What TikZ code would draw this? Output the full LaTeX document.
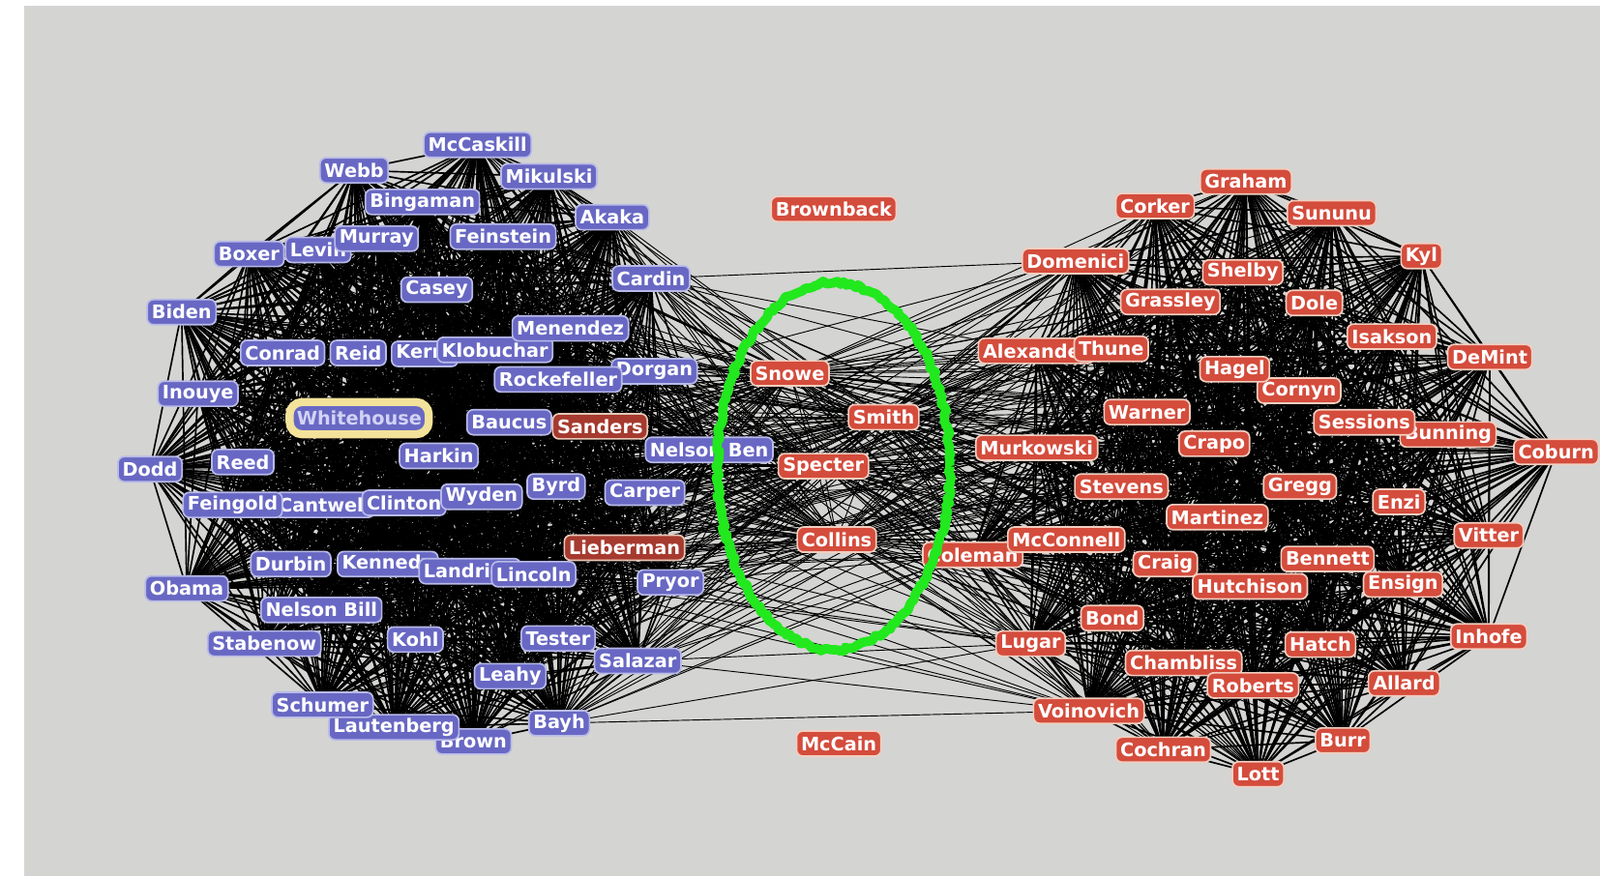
\documentclass[tikz,border=0pt]{standalone}
\usepackage{fontspec}
\setmainfont{DejaVu Sans}
\usetikzlibrary{decorations.pathmorphing}
\pgfdeclarelayer{bg}
\pgfdeclarelayer{edges}
\pgfsetlayers{bg,edges,main}
\definecolor{canvas}{RGB}{212,212,210}
\definecolor{demblue}{RGB}{104,104,196}
\definecolor{demedge}{RGB}{184,186,232}
\definecolor{repred}{RGB}{212,76,60}
\definecolor{repedge}{RGB}{242,206,192}
\definecolor{indred}{RGB}{166,58,46}
\definecolor{indedge}{RGB}{232,200,184}
\definecolor{whyellow}{RGB}{243,226,154}
\definecolor{whtext}{RGB}{210,210,245}
\definecolor{ringgreen}{RGB}{34,232,30}
\tikzset{
  sen/.style={rounded corners=3.5pt, inner xsep=2.5pt, inner ysep=0pt,
    minimum height=14pt, line width=0.9pt, text=white,
    font=\bfseries\fontsize{10.4}{12}\selectfont},
  demnode/.style={sen, fill=demblue, draw=demedge},
  repnode/.style={sen, fill=repred, draw=repedge},
  indnode/.style={sen, fill=indred, draw=indedge},
  whnode/.style={sen, fill=demblue, draw=whyellow, line width=4.5pt,
    rounded corners=7pt, inner xsep=4pt, minimum height=18pt, text=whtext},
  edge/.style={draw=black, line width=0.9pt},
  crossedge/.style={draw=black, line width=0.5pt},
  ring/.style={draw=ringgreen, line width=5.2pt, line join=round,
    decorate, decoration={random steps, segment length=2pt, amplitude=1.1pt}}
}
\def\leftlist{McCaskill,Webb,Mikulski,Bingaman,Akaka,Feinstein,Murray,Levin,Boxer,Cardin,Casey,Biden,Menendez,Conrad,Reid,Kerry,Klobuchar,Rockefeller,Dorgan,Inouye,Whitehouse,Baucus,Sanders,Harkin,NelsonBen,Reed,Dodd,Byrd,Carper,Feingold,Cantwell,Clinton,Wyden,Lieberman,Durbin,Kennedy,Landrieu,Lincoln,Pryor,Obama,NelsonBill,Stabenow,Kohl,Tester,Salazar,Leahy,Schumer,Lautenberg,Brown,Bayh}
\def\rightlist{Graham,Corker,Sununu,Domenici,Kyl,Shelby,Grassley,Dole,Isakson,Alexander,Thune,DeMint,Hagel,Cornyn,Warner,Sessions,Bunning,Crapo,Murkowski,Coburn,Stevens,Gregg,Enzi,Martinez,Vitter,Coleman,McConnell,Craig,Bennett,Hutchison,Ensign,Bond,Inhofe,Lugar,Hatch,Chambliss,Roberts,Allard,Voinovich,Burr,Cochran,Lott}
\def\midlist{Snowe,Smith,Specter,Collins}
\def\leftmod{NelsonBen,Lieberman,Pryor,Landrieu,Lincoln,Salazar,Bayh,Carper,Cardin,Dorgan}
\def\rightmod{Lugar,Coleman,Voinovich,Murkowski,Stevens,Alexander,Domenici,Warner}
\begin{document}
\begin{tikzpicture}[x=0.02cm,y=-0.02cm]
\useasboundingbox (0,0) rectangle (1568,859);
\begin{pgfonlayer}{bg}
\fill[white] (0,0) rectangle (1568,859);
\fill[canvas] (24,5.5) rectangle (1568,859);
\end{pgfonlayer}

% ---------- left cluster ----------
\node[demnode] (McCaskill) at (468,142) {McCaskill};
\node[demnode] (Webb) at (347,167) {Webb};
\node[demnode] (Mikulski) at (538,173) {Mikulski};
\node[demnode] (Bingaman) at (414,198) {Bingaman};
\node[demnode] (Akaka) at (600,213) {Akaka};
\node[demnode] (Feinstein) at (493,232) {Feinstein};
\node[demnode, anchor=west] (Levin) at (279,245) {Levin};
\node[demnode] (Murray) at (369,234) {Murray};
\node[demnode] (Boxer) at (244,249) {Boxer};
\node[demnode] (Cardin) at (638,273) {Cardin};
\node[demnode] (Casey) at (428,284) {Casey};
\node[demnode] (Biden) at (178,306) {Biden};
\node[demnode] (Conrad) at (277,346) {Conrad};
\node[demnode] (Reid) at (351,346) {Reid};
\node[demnode, anchor=west] (Kerry) at (383,347) {Kerry};
\node[demnode] (Klobuchar) at (485,343) {Klobuchar};
\node[demnode] (Menendez) at (559,322) {Menendez};
\node[demnode, anchor=east] (Dorgan) at (684,364) {Dorgan};
\node[demnode] (Rockefeller) at (547,372) {Rockefeller};
\node[demnode] (Inouye) at (194,386) {Inouye};
\node[whnode] (Whitehouse) at (352,410) {Whitehouse};
\node[demnode] (Baucus) at (499,414) {Baucus};
\node[indnode] (Sanders) at (588,418) {Sanders};
\node[demnode] (Harkin) at (430,447) {Harkin};
\node[demnode] (NelsonBen) at (695,441) {Nelson Ben};
\node[demnode] (Reed) at (238,453) {Reed};
\node[demnode] (Dodd) at (147,460) {Dodd};
\node[demnode] (Byrd) at (545,477) {Byrd};
\node[demnode] (Carper) at (632,483) {Carper};
\node[demnode, anchor=west] (Cantwell) at (268,495) {Cantwell};
\node[demnode] (Feingold) at (228,495) {Feingold};
\node[demnode] (Clinton) at (396,493) {Clinton};
\node[demnode] (Wyden) at (472,487) {Wyden};
\node[indnode] (Lieberman) at (612,537) {Lieberman};
\node[demnode] (Durbin) at (285,553) {Durbin};
\node[demnode, anchor=west] (Kennedy) at (330,553) {Kennedy};
\node[demnode, anchor=west] (Landrieu) at (410,560) {Landrieu};
\node[demnode] (Lincoln) at (523,563) {Lincoln};
\node[demnode] (Pryor) at (657,571) {Pryor};
\node[demnode] (Obama) at (183,577) {Obama};
\node[demnode] (NelsonBill) at (315,598) {Nelson Bill};
\node[demnode] (Stabenow) at (259,631) {Stabenow};
\node[demnode] (Kohl) at (407,627) {Kohl};
\node[demnode] (Tester) at (547,626) {Tester};
\node[demnode] (Salazar) at (625,648) {Salazar};
\node[demnode] (Leahy) at (500,663) {Leahy};
\node[demnode] (Brown) at (464,727) {Brown};
\node[demnode] (Lautenberg) at (386,713) {Lautenberg};
\node[demnode] (Schumer) at (316,691) {Schumer};
\node[demnode] (Bayh) at (548,709) {Bayh};

% ---------- middle ----------
\node[repnode] (Brownback) at (817,205) {Brownback};
\node[repnode] (Snowe) at (774,366) {Snowe};
\node[repnode] (Smith) at (866,409) {Smith};
\node[repnode] (Specter) at (807,457) {Specter};
\node[repnode] (Collins) at (820,529) {Collins};
\node[repnode] (McCain) at (822,729) {McCain};

% ---------- right cluster ----------
\node[repnode] (Graham) at (1221,178) {Graham};
\node[repnode] (Corker) at (1132,202) {Corker};
\node[repnode] (Sununu) at (1305,209) {Sununu};
\node[repnode] (Domenici) at (1054,256) {Domenici};
\node[repnode] (Kyl) at (1393,251) {Kyl};
\node[repnode] (Shelby) at (1218,267) {Shelby};
\node[repnode] (Grassley) at (1147,296) {Grassley};
\node[repnode] (Dole) at (1288,297) {Dole};
\node[repnode] (Isakson) at (1364,330) {Isakson};
\node[repnode, anchor=west] (Alexander) at (958,344) {Alexander};
\node[repnode] (Thune) at (1089,342) {Thune};
\node[repnode] (DeMint) at (1460,350) {DeMint};
\node[repnode] (Cornyn) at (1273,383) {Cornyn};
\node[repnode] (Hagel) at (1210,362) {Hagel};
\node[repnode] (Warner) at (1124,404) {Warner};
\node[repnode, anchor=east] (Bunning) at (1467,426) {Bunning};
\node[repnode] (Sessions) at (1337,414) {Sessions};
\node[repnode] (Crapo) at (1190,435) {Crapo};
\node[repnode] (Murkowski) at (1016,439) {Murkowski};
\node[repnode] (Coburn) at (1525,443) {Coburn};
\node[repnode] (Stevens) at (1099,477) {Stevens};
\node[repnode] (Gregg) at (1274,477) {Gregg};
\node[repnode] (Enzi) at (1371,492) {Enzi};
\node[repnode] (Martinez) at (1193,507) {Martinez};
\node[repnode] (Vitter) at (1459,525) {Vitter};
\node[repnode, anchor=east] (Coleman) at (1003,544) {Coleman};
\node[repnode] (McConnell) at (1045,529) {McConnell};
\node[repnode] (Craig) at (1142,553) {Craig};
\node[repnode] (Bennett) at (1301,548) {Bennett};
\node[repnode] (Hutchison) at (1225,575) {Hutchison};
\node[repnode] (Ensign) at (1375,573) {Ensign};
\node[repnode] (Bond) at (1090,606) {Bond};
\node[repnode] (Inhofe) at (1459,624) {Inhofe};
\node[repnode] (Lugar) at (1010,631) {Lugar};
\node[repnode] (Hatch) at (1294,632) {Hatch};
\node[repnode] (Chambliss) at (1160,650) {Chambliss};
\node[repnode] (Roberts) at (1228,672) {Roberts};
\node[repnode] (Allard) at (1376,670) {Allard};
\node[repnode] (Voinovich) at (1067,697) {Voinovich};
\node[repnode] (Burr) at (1316,726) {Burr};
\node[repnode] (Cochran) at (1140,735) {Cochran};
\node[repnode] (Lott) at (1233,759) {Lott};

% ---------- connectors ----------
\begin{pgfonlayer}{edges}
\foreach \a [count=\i] in \leftlist {
  \foreach \b [count=\j] in \leftlist {
    \ifnum\j>\i \draw[edge] (\a.center) -- (\b.center); \fi
  }
}
\foreach \a [count=\i] in \rightlist {
  \foreach \b [count=\j] in \rightlist {
    \ifnum\j>\i \draw[edge] (\a.center) -- (\b.center); \fi
  }
}
\foreach \m in \midlist {
  \foreach \b in \leftlist {\draw[crossedge] (\m.center) -- (\b.center);}
  \foreach \b in \rightlist {\draw[crossedge] (\m.center) -- (\b.center);}
}
\draw[crossedge] (Snowe.center) -- (Smith.center) -- (Specter.center) -- (Collins.center) -- (Snowe.center) -- (Specter.center);
\draw[crossedge] (Smith.center) -- (Collins.center);
\foreach \a in \leftmod {
  \foreach \b in \rightmod {\draw[crossedge] (\a.center) -- (\b.center);}
}
\end{pgfonlayer}

% ---------- highlight ring ----------
\draw[ring] (817,457) ellipse [x radius=114, y radius=180];
\end{tikzpicture}
\end{document}
